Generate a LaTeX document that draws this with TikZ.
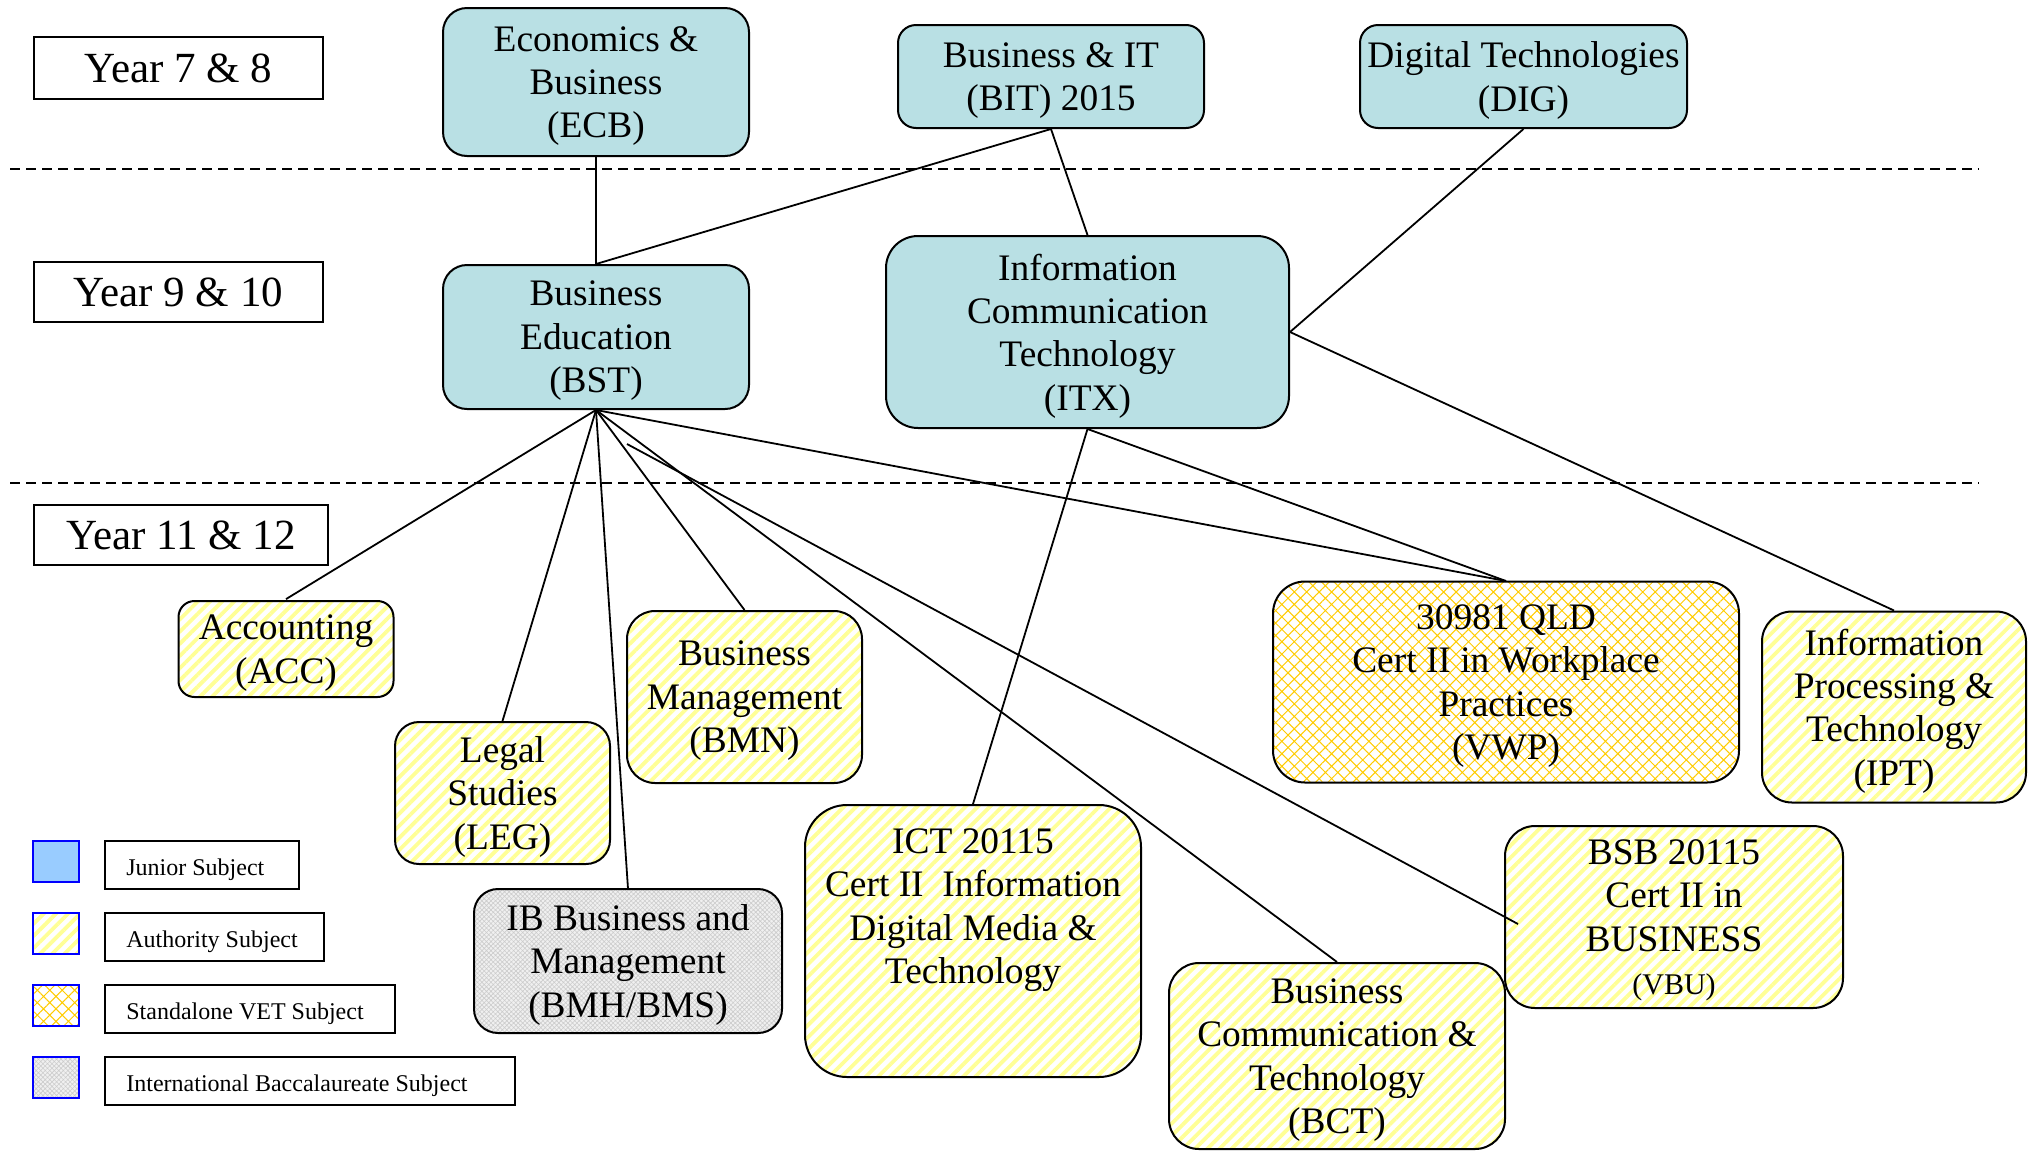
\documentclass[tikz,border=0pt]{standalone}
\usepackage{fontspec}
\setmainfont{Liberation Serif}
\usetikzlibrary{patterns,patterns.meta}
\definecolor{junfill}{RGB}{185,224,228}
\definecolor{stripe}{RGB}{255,255,150}
\definecolor{vetgold}{RGB}{255,204,0}
\definecolor{legblue}{RGB}{0,0,255}
\definecolor{legjun}{RGB}{153,204,255}
\tikzset{
  bx/.style n args={3}{draw=black, line width=1pt, inner sep=0pt, align=center,
     minimum width=#1, minimum height=#2, rounded corners=#3, text depth=0pt,
     font=\fontsize{18.7}{21.7}\selectfont},
  junior/.style={fill=junfill},
  authority/.style={preaction={fill=white}, pattern={Lines[angle=45,distance=4.3pt,line width=1.9pt]}, pattern color=stripe},
  vet/.style={preaction={fill=white}, pattern={Hatch[angle=45,distance=4.4pt,line width=0.5pt]}, pattern color=vetgold},
  ibpat/.style={preaction={fill=gray!12}, pattern={Hatch[angle=45,distance=1.6pt,line width=0.3pt]}, pattern color=gray!40},
  yearbox/.style n args={2}{draw=black, line width=1pt, minimum width=#1, minimum height=#2, inner sep=0pt,
     text depth=0pt, font=\fontsize{21.5}{24}\selectfont},
  swatch/.style={draw=legblue, line width=1pt, minimum width=23pt, minimum height=20.5pt, inner sep=0pt},
  legbox/.style={draw=black, line width=0.8pt, anchor=west, inner sep=0pt, minimum height=24pt},
  legtext/.style={anchor=west, inner sep=0pt, text depth=0pt, font=\fontsize{12}{14}\selectfont},
  link/.style={draw=black, line width=0.9pt},
  sep/.style={draw=black, line width=0.9pt, dash pattern=on 5pt off 3pt}
}
\begin{document}
\begin{tikzpicture}[x=0.5pt,y=-0.5pt]
\useasboundingbox (0,0) rectangle (2035,1152);

% separators
\coordinate (s1a) at (10,169); \coordinate (s1b) at (1979,169);
\coordinate (s2a) at (10,483); \coordinate (s2b) at (1979,483);
\draw[sep] (s1a) -- (s1b);
\draw[sep] (s2a) -- (s2b);

% year labels
\node[yearbox={144.5pt}{31pt}] (y78) at (178.5,68) {Year 7 \& 8};
\node[yearbox={144.5pt}{30pt}] (y910) at (178.5,292) {Year 9 \& 10};
\node[yearbox={147pt}{30pt}] (y1112) at (181,535) {Year 11 \& 12};

% junior subjects
\node[bx={153pt}{74pt}{12pt}, junior] (ECB) at (596,82) {Economics \&\\Business\\(ECB)};
\node[bx={153pt}{51.5pt}{9pt}, junior] (BIT) at (1051,76.5) {Business \& IT\\(BIT) 2015};
\node[bx={163.5pt}{51.5pt}{9pt}, junior] (DIG) at (1523.5,76.5) {Digital Technologies\\(DIG)};
\node[bx={153pt}{72pt}{12pt}, junior] (BST) at (596,337) {Business\\Education\\(BST)};
\node[bx={201.5pt}{96pt}{16pt}, junior] (ITX) at (1087.5,332) {Information\\Communication\\Technology\\(ITX)};

% senior subjects
\node[bx={107.5pt}{48pt}{8pt}, authority] (ACC) at (286,649) {Accounting\\(ACC)};
\node[bx={107.5pt}{71pt}{12pt}, authority] (LEG) at (502.5,793) {Legal\\Studies\\(LEG)};
\node[bx={117.5pt}{86pt}{14pt}, authority] (BMN) at (744.5,697) {Business\\Management\\(BMN)};
\node[bx={154pt}{72pt}{12pt}, ibpat] (IB) at (628,961) {IB Business and\\Management\\(BMH/BMS)};
\node[bx={168pt}{136pt}{21pt}, authority] (ICT) at (973,941) {};
\node[align=center, inner sep=0pt, text depth=0pt, font=\fontsize{18.7}{21.7}\selectfont] (ICTtext) at (973,906) {ICT 20115\\Cert II\ \ Information\\Digital Media \&\\Technology};
\node[bx={168pt}{93pt}{15pt}, authority] (BCT) at (1337,1056) {Business\\Communication \&\\Technology\\(BCT)};
\node[bx={233pt}{100.5pt}{16pt}, vet] (VWP) at (1506,682) {30981 QLD\\Cert II in Workplace\\Practices\\(VWP)};
\node[bx={132pt}{95.5pt}{15pt}, authority] (IPT) at (1894,707) {Information\\Processing \&\\Technology\\(IPT)};
\node[bx={169pt}{91pt}{15pt}, authority] (VBU) at (1674,917) {BSB 20115\\Cert II in\\BUSINESS\\{\fontsize{15}{18}\selectfont (VBU)}};

% connectors
\draw[link] (ECB.south) -- (BST.north);
\draw[link] (BIT.south) -- (BST.north);
\draw[link] (BIT.south) -- (ITX.north);
\draw[link] (DIG.south) -- (ITX.east);
\draw[link] (ITX.east) -- (IPT.north);
\draw[link] (ITX.south) -- (ICT.north);
\draw[link] (ITX.south) -- (VWP.north);
\draw[link] (BST.south) -- (ACC.north);
\draw[link] (BST.south) -- (LEG.north);
\draw[link] (BST.south) -- (IB.north);
\draw[link] (BST.south) -- (BMN.north);
\draw[link] (BST.south) -- (BCT.north);
\draw[link] (BST.south) -- (VWP.north);
\coordinate (vbustart) at (627,444);
\coordinate (vbuend) at (1518,924);
\draw[link] (vbustart) -- (vbuend);

% legend
\node[swatch, fill=legjun] (sw1) at (56,861) {};
\node[swatch, authority] (sw2) at (56,933) {};
\node[swatch, vet] (sw3) at (56,1005.5) {};
\node[swatch, ibpat] (sw4) at (56,1077.5) {};
\node[legbox, minimum width=97pt] (lg1) at (104,865) {};
\node[legbox, minimum width=109.5pt] (lg2) at (104,937) {};
\node[legbox, minimum width=145pt] (lg3) at (104,1009) {};
\node[legbox, minimum width=205pt] (lg4) at (104,1081) {};
\node[legtext] (lt1) at (126,867) {Junior Subject};
\node[legtext] (lt2) at (126,939) {Authority Subject};
\node[legtext] (lt3) at (126,1011) {Standalone VET Subject};
\node[legtext] (lt4) at (126,1083) {International Baccalaureate Subject};
\end{tikzpicture}
\end{document}
